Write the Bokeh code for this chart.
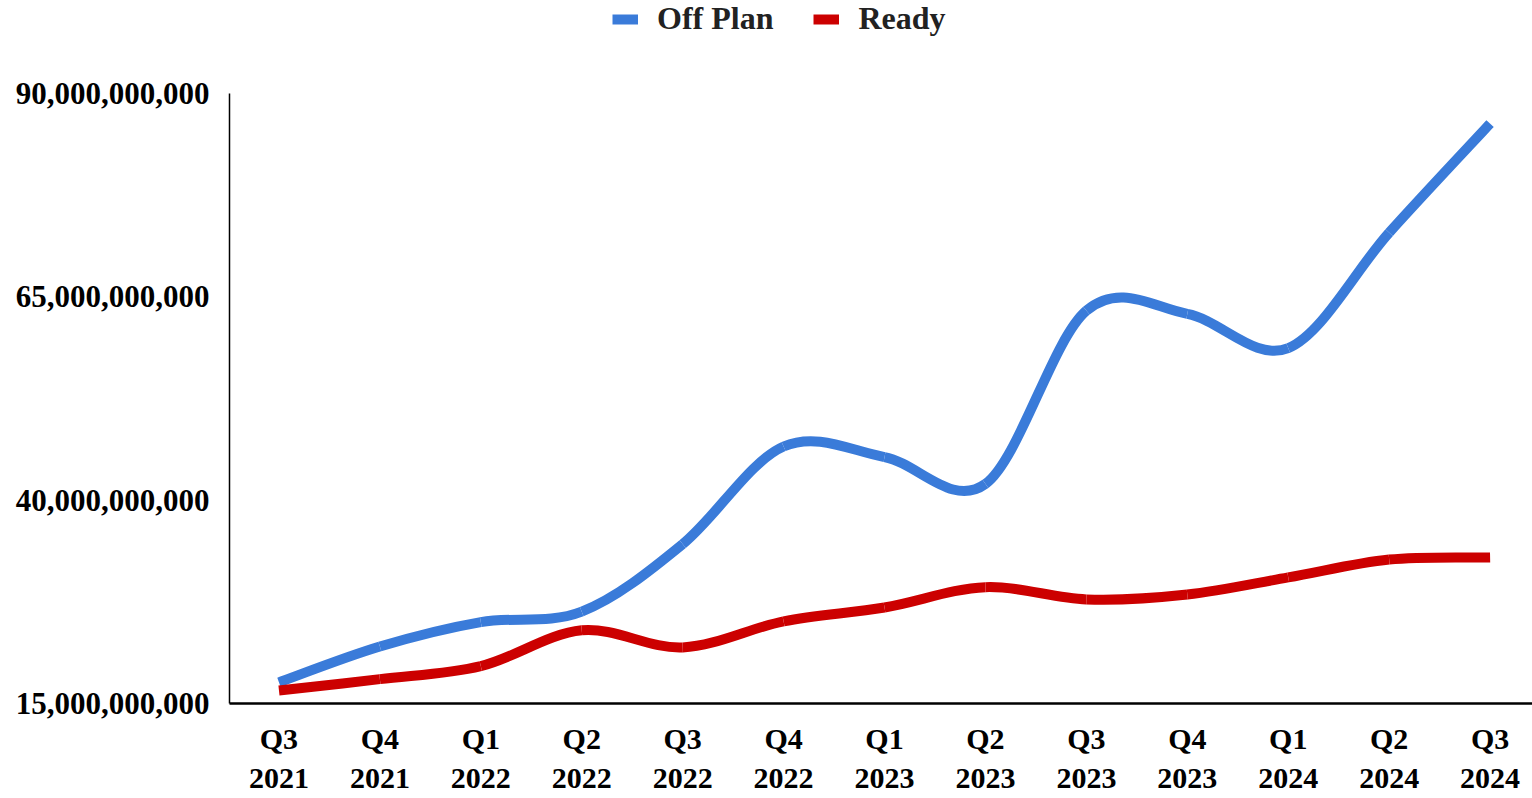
import numpy as np
from bokeh.plotting import figure
from bokeh.models import (Range1d, FixedTicker, NumeralTickFormatter, Legend,
                          LegendItem, ColumnDataSource)
from bokeh.embed import file_html
from bokeh.resources import INLINE

quarters = ["Q3", "Q4", "Q1", "Q2", "Q3", "Q4", "Q1", "Q2", "Q3", "Q4", "Q1", "Q2", "Q3"]
years = ["2021", "2021", "2022", "2022", "2022", "2022", "2023", "2023", "2023", "2023", "2024", "2024", "2024"]
off_plan = [17.6e9, 22.0e9, 25.0e9, 26.3e9, 34.6e9, 46.6e9, 45.3e9, 42.0e9, 63.3e9, 62.9e9, 58.7e9, 72.9e9, 86.3e9]
ready = [16.6e9, 18.0e9, 19.6e9, 24.0e9, 21.9e9, 25.1e9, 26.8e9, 29.3e9, 27.8e9, 28.4e9, 30.5e9, 32.7e9, 32.95e9]
y_ticks = [15e9, 40e9, 65e9, 90e9]

BLUE = "#3A7BD9"
RED = "#CC0000"
FONT = "Liberation Serif"

# layout (pixels)
FIG_W, FIG_H = 1532, 798
LEFT, BOTTOM = 229, 95
AXIS_TOP = 93          # where the y axis (90 bn) ends, from the top of the page
frame_h = FIG_H - BOTTOM
y_lo, y_hi = y_ticks[0], y_ticks[-1]
y_end = y_hi + (y_hi - y_lo) * AXIS_TOP / (frame_h - AXIS_TOP)


def smooth_segments(ys):
    """Bezier segments through the data points (Catmull-Rom style smoothing)."""
    xs = np.arange(len(ys), dtype=float)
    ys = np.asarray(ys, dtype=float)
    n = len(ys)
    d = dict(x0=[], y0=[], x1=[], y1=[], cx0=[], cy0=[], cx1=[], cy1=[])
    for i in range(n - 1):
        im = max(i - 1, 0)
        ip2 = min(i + 2, n - 1)
        d["x0"].append(xs[i]); d["y0"].append(ys[i])
        d["x1"].append(xs[i + 1]); d["y1"].append(ys[i + 1])
        d["cx0"].append(xs[i] + (xs[i + 1] - xs[im]) / 6)
        d["cy0"].append(ys[i] + (ys[i + 1] - ys[im]) / 6)
        d["cx1"].append(xs[i + 1] - (xs[ip2] - xs[i]) / 6)
        d["cy1"].append(ys[i + 1] - (ys[ip2] - ys[i]) / 6)
    return ColumnDataSource(d)


p = figure(width=FIG_W, height=FIG_H, output_backend="svg", toolbar_location=None,
           x_range=Range1d(-0.49, 12.42), y_range=Range1d(y_lo, y_end),
           min_border_left=LEFT, min_border_right=0, min_border_bottom=BOTTOM,
           min_border_top=0)
p.outline_line_color = None
p.xgrid.visible = False
p.ygrid.visible = False

r_off = p.bezier(x0="x0", y0="y0", x1="x1", y1="y1", cx0="cx0", cy0="cy0",
                 cx1="cx1", cy1="cy1", source=smooth_segments(off_plan),
                 line_color=BLUE, line_width=10, line_cap="butt")
r_ready = p.bezier(x0="x0", y0="y0", x1="x1", y1="y1", cx0="cx0", cy0="cy0",
                   cx1="cx1", cy1="cy1", source=smooth_segments(ready),
                   line_color=RED, line_width=10, line_cap="butt")

p.xaxis.ticker = FixedTicker(ticks=list(range(len(quarters))))
p.xaxis.major_label_overrides = {i: f"{q}\n{y}" for i, (q, y) in enumerate(zip(quarters, years))}
p.yaxis.ticker = FixedTicker(ticks=y_ticks)
p.yaxis.formatter = NumeralTickFormatter(format="0,0")
p.yaxis.bounds = (y_lo, y_hi)
for ax in (p.xaxis, p.yaxis):
    ax.major_tick_line_color = None
    ax.minor_tick_line_color = None
    ax.axis_line_color = "black"
    ax.major_label_text_font = FONT
    ax.major_label_text_font_style = "bold"
    ax.major_label_text_color = "black"
p.yaxis.major_label_text_font_size = "31px"
p.xaxis.major_label_text_font_size = "30px"
p.xaxis.axis_line_width = 2.5
p.yaxis.axis_line_width = 1.5
p.yaxis.major_label_standoff = 14
p.xaxis.major_label_standoff = 12

legend = Legend(items=[LegendItem(label="Off Plan", renderers=[r_off]),
                       LegendItem(label="Ready", renderers=[r_ready])],
                orientation="horizontal", location=(383, frame_h - 37),
                label_text_font=FONT, label_text_font_size="32px",
                label_text_font_style="bold",
                label_text_color="#222222", glyph_width=26, glyph_height=20,
                label_standoff=19, spacing=40, border_line_color=None,
                background_fill_alpha=0, margin=0, padding=0)
p.add_layout(legend)

open("out.html", "w").write(file_html(p, INLINE))
